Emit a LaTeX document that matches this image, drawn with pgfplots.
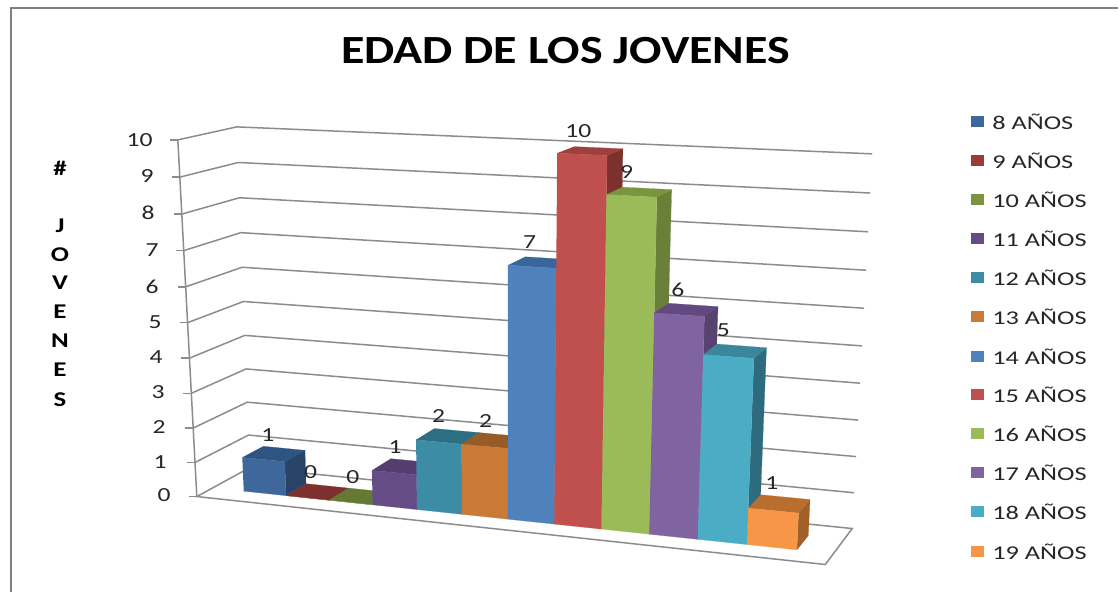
\documentclass[border=0pt]{standalone}
\usepackage{pgfplots}
\usepackage{fontspec}
\pgfplotsset{compat=1.18}
\setmainfont[FakeStretch=1.28]{Carlito}
\newfontfamily\legf[FakeStretch=1.35]{Carlito}
\newfontfamily\titlef[FakeStretch=1.2]{Carlito}
\definecolor{grid}{RGB}{140,140,140}
\definecolor{fA}{RGB}{62,104,155}\definecolor{tA}{RGB}{46,84,132}\definecolor{sA}{RGB}{40,68,105}
\definecolor{fB}{RGB}{155,58,56}\definecolor{tB}{RGB}{125,48,46}\definecolor{sB}{RGB}{125,48,46}
\definecolor{fC}{RGB}{122,148,64}\definecolor{tC}{RGB}{100,122,52}\definecolor{sC}{RGB}{100,122,52}
\definecolor{fD}{RGB}{102,76,135}\definecolor{tD}{RGB}{84,62,112}\definecolor{sD}{RGB}{84,62,112}
\definecolor{fE}{RGB}{60,140,165}\definecolor{tE}{RGB}{46,110,130}\definecolor{sE}{RGB}{46,110,130}
\definecolor{fF}{RGB}{202,122,55}\definecolor{tF}{RGB}{150,92,40}\definecolor{sF}{RGB}{150,92,40}
\definecolor{fG}{RGB}{79,129,189}\definecolor{tG}{RGB}{58,101,154}\definecolor{sG}{RGB}{50,85,130}
\definecolor{fH}{RGB}{192,80,77}\definecolor{tH}{RGB}{158,64,62}\definecolor{sH}{RGB}{125,49,47}
\definecolor{fI}{RGB}{155,187,89}\definecolor{tI}{RGB}{122,148,64}\definecolor{sI}{RGB}{106,127,56}
\definecolor{fJ}{RGB}{128,100,162}\definecolor{tJ}{RGB}{98,74,128}\definecolor{sJ}{RGB}{87,66,112}
\definecolor{fK}{RGB}{75,172,198}\definecolor{tK}{RGB}{59,134,155}\definecolor{sK}{RGB}{47,107,126}
\definecolor{fL}{RGB}{247,150,70}\definecolor{tL}{RGB}{185,110,48}\definecolor{sL}{RGB}{160,96,40}
% one bar: left edge, right edge, value, colour letter
\newcommand{\dibar}[4]{%
 \addplot[fill=s#4,draw=s#4,line width=.2pt,forget plot] table[row sep=\\,x expr={PX(T(\thisrow{i}),\thisrow{v},S(\thisrow{w}))},y expr={PY(T(\thisrow{i}),\thisrow{v},S(\thisrow{w}))}]
  {i v w\\ #2 .3 0\\ #2 .7 0\\ #2 .7 #3\\ #2 .3 #3\\};
 \addplot[fill=t#4,draw=t#4,line width=.2pt,forget plot] table[row sep=\\,x expr={PX(T(\thisrow{i}),\thisrow{v},S(\thisrow{w}))},y expr={PY(T(\thisrow{i}),\thisrow{v},S(\thisrow{w}))}]
  {i v w\\ #1 .3 #3\\ #2 .3 #3\\ #2 .7 #3\\ #1 .7 #3\\};
 \addplot[fill=f#4,draw=f#4,line width=.2pt,forget plot] table[row sep=\\,x expr={PX(T(\thisrow{i}),\thisrow{v},S(\thisrow{w}))},y expr={PY(T(\thisrow{i}),\thisrow{v},S(\thisrow{w}))}]
  {i v w\\ #1 .3 0\\ #2 .3 0\\ #2 .3 #3\\ #1 .3 #3\\};
}
\newcommand{\dilabel}[3]{%
 \addplot[only marks,mark=none,forget plot,nodes near coords={#3},nodes near coords style={anchor=center,inner sep=0pt,yshift={(10+0.5*#2)*1pt},font=\fontsize{20}{24}\selectfont,text=black!85}] table[row sep=\\,x expr={PX(T(\thisrow{i}),\thisrow{v},S(\thisrow{w}))},y expr={PY(T(\thisrow{i}),\thisrow{v},S(\thisrow{w}))}]
  {i v w\\ #1 .75 #2\\};
}
\newcommand{\legitem}[3]{%
 \addplot[fill=f#2,draw=none,forget plot] coordinates {(972,#1-5.5)(985,#1-5.5)(985,#1+5.5)(972,#1+5.5)};
 \node[anchor=west,inner sep=0pt,font=\legf\fontsize{19.5}{24}\selectfont,text=black!85] at (axis cs:993,#1) {#3};
}
\newcommand{\ylet}[2]{\node[inner sep=0pt,font=\fontsize{21}{24}\selectfont\bfseries] at (axis cs:60,#1) {#2};}
\newcommand{\ytick}[3]{\node[anchor=east,inner sep=0pt,font=\fontsize{20}{24}\selectfont,text=black!85] at (axis cs:#1,#2) {#3};}
\begin{document}
\begin{tikzpicture}[declare function={
 PX(\argt,\argv,\args)=(1-\args)*((1-\argv)*(197+629*\argt)+\argv*(250+603*\argt))+\args*((1-\argv)*(178+667*\argt)+\argv*(237+636*\argt));
 PY(\argt,\argv,\args)=(1-\args)*((1-\argv)*(497+68*\argt)+\argv*(468+61*\argt))+\args*((1-\argv)*(140+33*\argt)+\argv*(127+27*\argt));
 T(\argi)=.05+.89*(.911*(\argi/12)+.0904*(\argi/12)*(\argi/12));
 S(\argw)=(\argw/10)*(.95+.05*\argw/10);
}]
\begin{axis}[width=1119pt,height=593pt,scale only axis,hide axis,
  xmin=0,xmax=1119,ymin=0,ymax=593,y dir=reverse,clip=false,
  legend style={draw=none},
  every axis plot/.append style={mark=none}]
% page
\addplot[fill=white,draw=none,forget plot] coordinates {(0,0)(1119,0)(1119,593)(0,593)};
% chart frame
\addplot[draw=black!50,line width=2pt,forget plot] coordinates {(11,593)(11,8)(1119,8)};
% grid
\pgfplotsinvokeforeach{1,...,10}{
 \addplot[draw=grid,line width=1.5pt,forget plot] table[row sep=\\,x expr={PX(\thisrow{t},\thisrow{v},S(\thisrow{w}))},y expr={PY(\thisrow{t},\thisrow{v},S(\thisrow{w}))}]
  {t v w\\ 0 0 #1\\ 0 1 #1\\ 1 1 #1\\};
}
% floor
\addplot[draw=grid,line width=1.5pt,forget plot] table[row sep=\\,x expr={PX(\thisrow{t},\thisrow{v},S(\thisrow{w}))},y expr={PY(\thisrow{t},\thisrow{v},S(\thisrow{w}))}]
  {t v w\\ 0 1 0\\ 0 0 0\\ 1 0 0\\ 1 1 0\\ 0 1 0\\};
% value axis and ticks
\addplot[draw=grid,line width=1.5pt,forget plot] table[row sep=\\,x expr={PX(\thisrow{t},\thisrow{v},S(\thisrow{w}))},y expr={PY(\thisrow{t},\thisrow{v},S(\thisrow{w}))}]
  {t v w\\ 0 0 0\\ 0 0 10\\};
\pgfplotsinvokeforeach{0,...,10}{
 \addplot[draw=grid,line width=1.5pt,forget plot] table[row sep=\\,x expr={PX(0,0,S(\thisrow{w}))-\thisrow{d}},y expr={PY(0,0,S(\thisrow{w}))}]
  {d w\\ 0 #1\\ 8 #1\\};
}
% bars, values 1 0 0 1 2 2 7 10 9 6 5 1
\dibar{0}{1}{1}{A}
\dibar{1}{2}{0}{B}
\dibar{2}{3}{0}{C}
\dibar{3}{4}{1}{D}
\dibar{4}{5}{2}{E}
\dibar{5}{6}{2}{F}
\dibar{6}{7}{7}{G}
\dibar{7}{8}{10}{H}
\dibar{8}{9}{9}{I}
\dibar{9}{10}{6}{J}
\dibar{10}{11}{5}{K}
\dibar{11}{12}{1}{L}
\dilabel{0.05}{1}{1}
\dilabel{1.05}{0}{0}
\dilabel{2.05}{0}{0}
\dilabel{3.05}{1}{1}
\dilabel{4.05}{2}{2}
\dilabel{5.1}{2}{2}
\dilabel{6.05}{7}{7}
\dilabel{7.05}{10}{10}
\dilabel{8.05}{9}{9}
\dilabel{9.15}{6}{6}
\dilabel{10.1}{5}{5}
\dilabel{11.2}{1}{1}
% tick labels
\ytick{153}{140}{10}\ytick{154}{176}{9}\ytick{155}{213}{8}\ytick{159}{250}{7}
\ytick{159}{287}{6}\ytick{162}{322}{5}\ytick{163}{357}{4}\ytick{165}{392}{3}
\ytick{166}{427}{2}\ytick{167}{462}{1}\ytick{171}{496}{0}
% legend
\legitem{122}{A}{8 AÑOS}
\legitem{161}{B}{9 AÑOS}
\legitem{200}{C}{10 AÑOS}
\legitem{239}{D}{11 AÑOS}
\legitem{278}{E}{12 AÑOS}
\legitem{317}{F}{13 AÑOS}
\legitem{357}{G}{14 AÑOS}
\legitem{395}{H}{15 AÑOS}
\legitem{434}{I}{16 AÑOS}
\legitem{473}{J}{17 AÑOS}
\legitem{512}{K}{18 AÑOS}
\legitem{552}{L}{19 AÑOS}
% y title
\ylet{168}{\#}\ylet{226}{J}\ylet{255}{O}\ylet{283}{V}\ylet{312}{E}\ylet{341}{N}\ylet{370}{E}\ylet{400}{S}
% title
\node[inner sep=0pt,font=\titlef\fontsize{40}{48}\selectfont\bfseries] at (axis cs:566,51) {EDAD DE LOS JOVENES};
\end{axis}
\end{tikzpicture}
\end{document}
